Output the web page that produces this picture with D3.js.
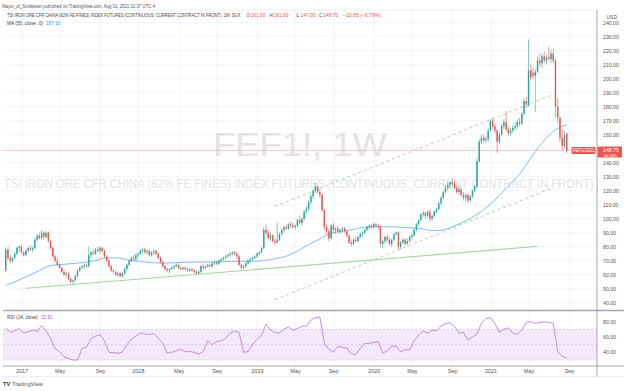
<!DOCTYPE html>
<html>
<head>
<meta charset="utf-8">
<script src="https://cdn.jsdelivr.net/npm/d3@7"></script>
<style>
body { margin: 0; background: #fff; }
svg { display: block; font-family: "Liberation Sans", Arial, sans-serif; }
</style>
</head>
<body>
<svg width="624" height="391"></svg>
<script>
// weekly bars, first bar week of 2016-11-14
var startWeek = "2016-11-14";

var opens = [63,78,72,70,72,75,79,80,76,74, 77,79,78,79,85,88,86,90,87,90, 84,79,73,70,67,65,62,60,61,57,
  55,56,59,63,65,66,67,66,74,76, 75,78,77,79,77,73,70,66,63,62, 60,61,59,61,64,67,70,72,71,74,
  75,77,78,76,77,74,76,77,75,72, 69,66,64,63,64,65,66,67,65,64, 65,64,63,64,63,62,61,62,66,65,
  66,67,66,68,69,68,70,71,72,73, 74,75,76,75,73,67,65,66,68,70, 71,72,73,75,76,79,92,90,86,88,
  84,83,85,89,92,94,93,96,95,94, 95,99,97,100,105,107,112,116,120,123, 119,117,106,94,91,86,95,92,93,91,
  92,93,91,88,83,82,85,84,87,89, 90,92,94,95,94,96,95,94,82,84, 87,85,82,85,89,90,80,83,85,82,
  84,87,88,92,96,99,103,104,102,105, 100,102,105,107,111,115,119,122,124,126, 125,122,119,121,117,115,117,113,116,120,
  123,141,155,158,156,157,163,170,166,163, 155,160,166,169,164,161,163,165,166,169, 168,175,184,181,206,204,202,205,213,211,
  216,213,215,214,218,213,180,172,158,152, 161];
var highs = [79,80,74,73,76,80,81,81,77,78, 80,81,80,86,89,90,92,91,91,91, 85,80,74,72,68,66,64,62,62,58,
  57,60,64,66,67,68,68,80,77,78, 79,80,80,80,78,74,71,67,64,63, 62,62,62,65,68,71,73,74,75,76,
  78,79,79,78,78,77,78,78,76,73, 70,67,65,65,66,67,68,68,66,66, 66,65,65,65,64,63,63,67,68,67,
  68,68,69,70,70,71,72,73,74,75, 76,77,77,76,74,68,67,69,71,72, 73,74,76,77,80,94,96,92,90,89,
  86,97,90,93,95,96,97,98,97,96, 100,102,101,106,109,113,118,121,126,124, 121,118,107,96,93,96,97,94,95,93,
  94,94,92,89,85,86,87,88,90,91, 93,95,96,96,97,97,96,95,85,88, 89,87,86,90,91,91,84,86,86,86,
  88,89,93,97,100,104,106,105,106,107, 103,106,108,112,116,120,124,126,127,129, 127,124,123,122,119,118,118,117,121,124,
  143,157,160,160,159,165,171,172,168,164, 162,168,171,177,166,165,167,169,171,172, 176,186,187,228,210,208,207,216,218,218,
  219,217,223,221,221,214,186,173,164,163, 161];
var lows = [62,70,68,68,71,74,76,75,73,73, 76,77,76,78,84,85,85,85,86,83, 78,72,69,66,64,61,59,58,56,54,
  53,55,58,62,64,64,65,65,72,74, 74,76,75,76,72,69,65,62,61,59, 58,58,58,60,63,66,69,70,70,72,
  74,75,75,74,73,73,74,74,71,68, 65,63,62,61,63,64,65,64,63,63, 63,62,62,62,61,60,60,61,64,64,
  65,65,65,67,67,67,69,70,71,72, 73,74,74,72,66,63,64,65,67,69, 70,71,72,74,75,78,88,85,84,83,
  81,82,84,88,90,92,92,93,93,92, 94,96,95,99,103,106,110,114,118,118, 115,105,92,89,84,85,90,89,90,89,
  90,90,87,82,80,81,83,83,86,87, 89,91,92,93,93,94,92,80,79,82, 83,81,80,84,88,78,78,82,81,81,
  83,85,87,91,95,98,101,100,101,98, 98,101,104,106,110,114,118,120,122,123, 121,118,117,116,113,112,111,112,115,119,
  122,140,153,154,154,155,162,164,161,147, 153,159,164,162,159,159,161,163,164,166, 167,174,179,180,199,200,176,204,209,208,
  211,210,213,211,211,172,168,155,149,150, 147];
var closes = [78,72,70,72,75,79,80,76,74,77, 79,78,79,85,88,86,90,87,90,84, 79,73,70,67,65,62,60,61,57,55,
  56,59,63,65,66,67,66,74,76,75, 78,77,79,77,73,70,66,63,62,60, 61,59,61,64,67,70,72,71,74,75,
  77,78,76,77,74,76,77,75,72,69, 66,64,63,64,65,66,67,65,64,65, 64,63,64,63,62,61,62,66,65,66,
  67,66,68,69,68,70,71,72,73,74, 75,76,75,73,67,65,66,68,70,71, 72,73,75,76,79,92,90,86,88,84,
  83,85,89,92,94,93,96,95,94,95, 99,97,100,105,107,112,116,120,123,119, 117,106,94,91,86,95,92,93,91,92,
  93,91,88,83,82,85,84,87,89,90, 92,94,95,94,96,95,94,82,84,87, 85,82,85,89,90,80,83,85,82,84,
  87,88,92,96,99,103,104,102,105,100, 102,105,107,111,115,119,122,124,126,125, 122,119,121,117,115,117,113,116,120,123,
  141,155,158,156,157,163,170,166,163,155, 160,166,169,164,161,163,165,166,169,168, 175,184,182,206,201,202,205,213,211,216,
  213,215,214,218,213,180,172,158,152,159.6, 148.75];

// MA(50) read every 5 weeks
var maStep = 5;
var maValues = [52.3,55.6,59.2,62.9,66.5,67.3,68,68.8,70,72,
  72,70.2,69.5,68.6,68.3,68.5,68.9,69,69,69.2,
  69.5,69.6,69.6,70,71.5,73.2,77,81.5,85.5,89.6,
  91,92.3,94,94.3,94.3,94,93.5,93,91.5,92,
  94.8,98.5,103,109,116.5,125,134,145.5,156,163.5,167.1];

// RSI(14) read every 2 weeks
var rsiStep = 2;
var rsiValues = [72,66,68,71,65,67,69,67,75,68, 58,45,41,34,32,30,30,45,47,58,
  61,63,55,40,39.5,38.7,40.5,50,57,61, 65,64,63,64.5,58,52,39,40,42,44,
  41,41,40,37.5,41,55,50,54,55,58, 65,68,66,40,41,50,57,62,77,69,
  66,65,70,73,69,71,74,74,82,85, 86,52,44,40,48,46.5,45.5,38,37,45,
  51.5,51.8,53,53.9,39,42,48,48,40.8,43.5, 43,55,62.5,68,65,69,68,74,77.5,78.5,
  74,65,66,56,60,64,78,84,85,78, 66,70,72,65,63.5,69,79,80,77.8,79,
  79.5,79,78,41,35,32.82];

// drawn lines: [week, price]
var supportLine = [[9, 50.3], [236.8, 80.2]];
var channelUpper = [[120, 108.7], [243.4, 188.4]];
var channelLower = [[120, 42.2], [243.4, 121.9]];

var priceTicks = [40,50,60,70,80,90,100,110,120,130,140,150,160,170,180,190,200,210,220,230,240];
var rsiTicks = [40, 60, 80];
var rsiLevels = [70, 50, 30];
var timeTickDates = ["2017-01-02","2017-05-01","2017-09-04","2018-01-01","2018-05-07","2018-09-03",
  "2019-01-07","2019-05-06","2019-09-02","2020-01-06","2020-05-04","2020-09-07",
  "2021-01-04","2021-05-03","2021-09-06"];
var timeTickLabels = ["2017","May","Sep","2018","May","Sep","2019","May","Sep","2020","May","Sep","2021","May","Sep"];

var svg = d3.select("svg");
var parseDate = d3.utcParse("%Y-%m-%d");
var firstWeek = parseDate(startWeek);
function weekDate(w) { return new Date(firstWeek.getTime() + w * 7 * 864e5); }

var chartLeft = 3, chartRight = 597;
var mainTop = 10, paneSplit = 310.5, rsiBottom = 366;
var upColor = "#26a69a", downColor = "#ef5350";

// text squeezed horizontally to a given width (TradingView font is narrower)
function fitText(parent, str, x0, y0, width, size, color) {
  var t = parent.append("text").attr("x", 0).attr("y", 0)
    .attr("font-size", size).attr("fill", color).text(str);
  var w = t.node().getComputedTextLength();
  t.attr("transform", "translate(" + x0 + "," + y0 + ") scale(" + (width / w) + ",1)");
  return t;
}

var x = d3.scaleUtc()
  .domain([weekDate(0), weekDate(closes.length - 1)])
  .range([5.7, 566.7]);
var y = d3.scaleLinear().domain([40, 240]).range([302.7, 22.7]);
var yRsi = d3.scaleLinear().domain([30, 70]).range([360, 329.3]);

var defs = svg.append("defs");
defs.append("clipPath").attr("id", "clipMain").append("rect")
  .attr("x", chartLeft).attr("y", mainTop).attr("width", chartRight - chartLeft).attr("height", paneSplit - mainTop);
defs.append("clipPath").attr("id", "clipRsi").append("rect")
  .attr("x", chartLeft).attr("y", paneSplit).attr("width", chartRight - chartLeft).attr("height", rsiBottom - paneSplit);

// header
fitText(svg, "Mayor_of_Smiletown published on TradingView.com, Aug 31, 2021 12:37 UTC-4", 2, 7.6, 153, 5.4, "#555");

// grid
var grid = svg.append("g");
grid.selectAll(".vgrid")
  .data(timeTickDates)
  .enter()
  .append("line")
  .attr("x1", (d) => x(parseDate(d)) + 0.5).attr("x2", (d) => x(parseDate(d)) + 0.5)
  .attr("y1", mainTop).attr("y2", rsiBottom)
  .attr("stroke", "#eef1f7").attr("stroke-width", 0.8);
grid.selectAll(".hgrid")
  .data(priceTicks)
  .enter()
  .append("line")
  .attr("x1", chartLeft).attr("x2", chartRight)
  .attr("y1", (d) => y(d)).attr("y2", (d) => y(d))
  .attr("stroke", "#eef1f7").attr("stroke-width", 0.8);

// watermark
fitText(svg, "FEF1!, 1W", 213, 155.5, 174, 33, "#e3e3e3");
fitText(svg, "TSI IRON ORE CFR CHINA (62% FE FINES) INDEX FUTURES (CONTINUOUS: CURRENT CONTRACT IN FRONT)",
  4, 187.5, 590, 12.6, "#e3e3e3");

var main = svg.append("g").attr("clip-path", "url(#clipMain)");

// last price line
var lastClose = closes[closes.length - 1];
main.append("line")
  .attr("x1", chartLeft).attr("x2", chartRight)
  .attr("y1", y(lastClose)).attr("y2", y(lastClose))
  .attr("stroke", "#f5b3b2").attr("stroke-width", 0.7);

// drawings
var lineGen = d3.line().x((d) => x(weekDate(d[0]))).y((d) => y(d[1]));
main.append("path").attr("d", lineGen(supportLine))
  .attr("fill", "none").attr("stroke", "#a5d6a7").attr("stroke-width", 1.1);
[channelUpper, channelLower].forEach(function(c) {
  main.append("path").attr("d", lineGen(c))
    .attr("fill", "none").attr("stroke", "#a5d6a7").attr("stroke-width", 1)
    .attr("stroke-dasharray", "3,3");
});

// MA
var maLine = d3.line()
  .x((d, i) => x(weekDate(i * maStep)))
  .y((d) => y(d))
  .curve(d3.curveMonotoneX);
main.append("path").attr("d", maLine(maValues))
  .attr("fill", "none").attr("stroke", "#7fbcf2").attr("stroke-width", 1);

// candles
var bars = closes.map(function(c, i) {
  return {date: weekDate(i), open: opens[i], high: highs[i], low: lows[i], close: c};
});
var candle = main.selectAll(".candle")
  .data(bars)
  .enter()
  .append("g")
  .attr("class", "candle");
candle.append("line")
  .attr("x1", (d) => x(d.date)).attr("x2", (d) => x(d.date))
  .attr("y1", (d) => y(d.high)).attr("y2", (d) => y(d.low))
  .attr("stroke", (d) => d.close >= d.open ? upColor : downColor)
  .attr("stroke-width", 0.6);
candle.append("rect")
  .attr("x", (d) => x(d.date) - 0.7)
  .attr("width", 1.4)
  .attr("y", (d) => y(Math.max(d.open, d.close)))
  .attr("height", (d) => Math.max(0.7, Math.abs(y(d.open) - y(d.close))))
  .attr("fill", (d) => d.close >= d.open ? upColor : downColor);

// legend
var legend = svg.append("g");
fitText(legend, "TSI IRON ORE CFR CHINA (62% FE FINES) INDEX FUTURES (CONTINUOUS: CURRENT CONTRACT IN FRONT), 1W, SGX",
  7, 17.4, 234, 5, "#444");
var last = bars[bars.length - 1];
var ohlc = [["O", last.open, 246.5], ["H", last.high, 269.5], ["L", last.low, 296.5], ["C", last.close, 319]];
ohlc.forEach(function(p) {
  fitText(legend, p[0], p[2], 17.4, 3.2, 5, "#444");
  fitText(legend, p[1].toFixed(2), p[2] + 4, 17.4, 15, 5, downColor);
});
fitText(legend, "\u221210.85 (\u22126.79%)", 343, 17.4, 38, 5, downColor);
fitText(legend, "MA (50, close, 0)", 7, 25, 36, 5, "#444");
fitText(legend, maValues[maValues.length - 1].toFixed(2), 46, 25, 14, 5, "#2196f3");

// RSI pane
var rsiG = svg.append("g").attr("clip-path", "url(#clipRsi)");
rsiG.append("rect")
  .attr("x", chartLeft).attr("width", chartRight - chartLeft)
  .attr("y", yRsi(70)).attr("height", yRsi(30) - yRsi(70))
  .attr("fill", "#f4e8fb");
rsiG.selectAll(".lvl")
  .data(rsiLevels)
  .enter()
  .append("line")
  .attr("x1", chartLeft).attr("x2", chartRight)
  .attr("y1", (d) => yRsi(d)).attr("y2", (d) => yRsi(d))
  .attr("stroke", "#c9aee0").attr("stroke-width", 0.6).attr("stroke-dasharray", "2,2");
var rsiLine = d3.line()
  .x((d, i) => x(weekDate(i * rsiStep)))
  .y((d) => yRsi(d));
rsiG.append("path").attr("d", rsiLine(rsiValues))
  .attr("fill", "none").attr("stroke", "#c47fdc").attr("stroke-width", 0.9);
fitText(svg, "RSI (14, close)", 7, 318.6, 31, 5, "#444");
fitText(svg, rsiValues[rsiValues.length - 1].toFixed(2), 41, 318.6, 11.5, 5, "#b25fd1");

// frame lines
svg.append("line").attr("x1", chartLeft).attr("x2", chartRight).attr("y1", mainTop).attr("y2", mainTop)
  .attr("stroke", "#e6e9ef").attr("stroke-width", 0.8);
svg.append("line").attr("x1", chartLeft).attr("x2", 624).attr("y1", paneSplit).attr("y2", paneSplit)
  .attr("stroke", "#a3a6ad").attr("stroke-width", 1.4);
svg.append("line").attr("x1", chartLeft).attr("x2", 624).attr("y1", rsiBottom).attr("y2", rsiBottom)
  .attr("stroke", "#8f929a").attr("stroke-width", 0.8);
svg.append("line").attr("x1", chartLeft).attr("x2", 624).attr("y1", 376.5).attr("y2", 376.5)
  .attr("stroke", "#e6e9ef").attr("stroke-width", 0.8);
svg.append("line").attr("x1", chartRight).attr("x2", chartRight).attr("y1", mainTop).attr("y2", 376.5)
  .attr("stroke", "#8f929a").attr("stroke-width", 0.8);

// price axis
var yAxis = svg.append("g")
  .attr("transform", "translate(" + chartRight + ",0)")
  .call(d3.axisRight(y).tickValues(priceTicks).tickSize(0).tickPadding(6).tickFormat(d3.format(".2f")));
yAxis.select(".domain").remove();
yAxis.selectAll("text").attr("font-size", 5.2).attr("fill", "#555").attr("font-family", "Liberation Sans, Arial, sans-serif");
svg.append("rect").attr("x", 603).attr("y", 12.5).attr("width", 14).attr("height", 7).attr("fill", "#fff");
svg.append("text").attr("x", 606.5).attr("y", 18.5).attr("font-size", 5).attr("fill", "#555").text("USD");

var rsiAxis = svg.append("g")
  .attr("transform", "translate(" + chartRight + ",0)")
  .call(d3.axisRight(yRsi).tickValues(rsiTicks).tickSize(0).tickPadding(6).tickFormat(d3.format(".2f")));
rsiAxis.select(".domain").remove();
rsiAxis.selectAll("text").attr("font-size", 5.2).attr("fill", "#555").attr("font-family", "Liberation Sans, Arial, sans-serif");

// price tags
var tagY = y(lastClose);
svg.append("rect").attr("x", 597.5).attr("y", tagY - 4).attr("width", 24.5).attr("height", 11)
  .attr("fill", downColor).attr("rx", 0.8);
svg.append("text").attr("x", 603).attr("y", tagY + 1.8).attr("font-size", 5.2).attr("fill", "#fff")
  .text(lastClose.toFixed(2));
svg.append("text").attr("x", 603.5).attr("y", tagY + 6.2).attr("font-size", 4.4).attr("fill", "#fff")
  .text("3d 20h");
svg.append("rect").attr("x", 571.5).attr("y", tagY - 3.4).attr("width", 24).attr("height", 7)
  .attr("fill", downColor).attr("rx", 0.8);
svg.append("text").attr("x", 583.5).attr("y", tagY + 1.7).attr("font-size", 4.6).attr("fill", "#fff")
  .attr("text-anchor", "middle").text("FEFU2021");

// time axis
var xAxis = svg.append("g")
  .attr("transform", "translate(0," + rsiBottom + ")")
  .call(d3.axisBottom(x)
    .tickValues(timeTickDates.map(parseDate))
    .tickSize(0).tickPadding(3)
    .tickFormat((d, i) => timeTickLabels[i]));
xAxis.select(".domain").remove();
xAxis.selectAll("text").attr("font-size", 5.4).attr("fill", "#555").attr("font-family", "Liberation Sans, Arial, sans-serif");

// logo
svg.append("text").attr("x", 3).attr("y", 386).attr("font-size", 5.6).attr("font-weight", "bold")
  .attr("fill", "#333").text("TV");
svg.append("text").attr("x", 12).attr("y", 386).attr("font-size", 5.6).attr("fill", "#555")
  .text("TradingView");
</script>
</body>
</html>
